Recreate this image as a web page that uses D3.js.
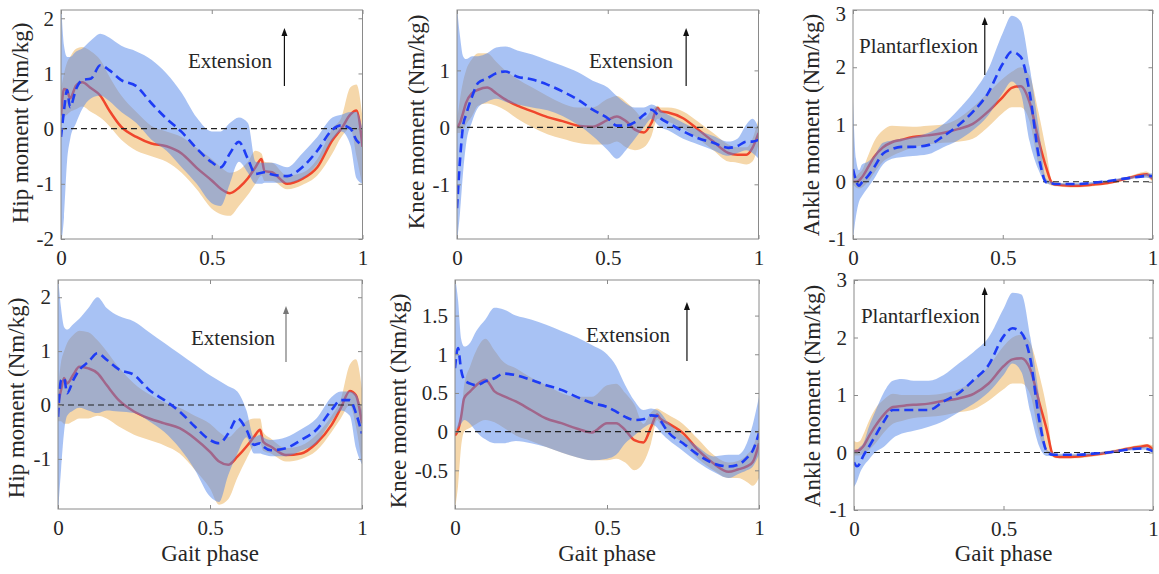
<!DOCTYPE html>
<html><head><meta charset="utf-8">
<script src="https://cdn.jsdelivr.net/npm/d3@7/dist/d3.min.js"></script>
<style>
body{margin:0;background:#fff}
svg text{font-family:"Liberation Serif","Times New Roman",serif;fill:#262626}
</style>
</head><body>
<svg id="chart" width="1159" height="574"></svg>
<script>
// ---------- DATA (gait phase grid shared by all panels) ----------
const phase = [0, 0.01, 0.02, 0.03, 0.05, 0.07, 0.1, 0.13, 0.16, 0.2, 0.25, 0.3, 0.35, 0.4, 0.45, 0.5, 0.53, 0.56, 0.59, 0.62, 0.645, 0.665, 0.675, 0.7, 0.75, 0.8, 0.85, 0.9, 0.93, 0.96, 0.98, 1];

// Panel 1: hip (top row)
const hip1RedMean  = [0.24, 0.72, 0.70, 0.55, 0.78, 0.84, 0.73, 0.60, 0.33, 0.03, -0.15, -0.27, -0.32, -0.45, -0.71, -0.94, -1.09, -1.17, -1.07, -0.90, -0.70, -0.55, -0.77, -0.79, -1.00, -0.91, -0.70, -0.21, 0.00, 0.26, 0.33, -0.33];
const hip1RedLo    = [0.0, 0.2, 0.25, 0.3, 0.35, 0.4, 0.3, 0.2, 0.05, -0.2, -0.4, -0.5, -0.6, -0.8, -1.1, -1.45, -1.55, -1.58, -1.4, -1.2, -1.0, -0.85, -0.95, -0.95, -1.1, -1.02, -0.85, -0.45, -0.15, 0.0, -0.5, -1.05];
const hip1RedHi    = [0.7, 1.0, 1.2, 1.3, 1.45, 1.48, 1.4, 1.25, 0.95, 0.6, 0.3, 0.05, -0.05, -0.15, -0.35, -0.55, -0.7, -0.8, -0.75, -0.6, -0.4, -0.45, -0.6, -0.62, -0.85, -0.8, -0.55, 0.0, 0.2, 0.75, 0.8, 0.2];
const hip1BlueMean = [-0.15, 0.33, 0.70, 0.39, 0.72, 0.88, 0.91, 1.15, 1.06, 0.88, 0.77, 0.46, 0.18, -0.06, -0.36, -0.61, -0.70, -0.45, -0.24, -0.55, -0.82, -0.80, -0.79, -0.83, -0.86, -0.70, -0.40, -0.02, 0.06, 0.00, -0.21, -0.30];
const hip1BlueLo   = [-2.1, -1.6, -0.6, -0.2, 0.1, 0.35, 0.55, 0.6, 0.5, 0.3, 0.1, -0.2, -0.4, -0.7, -1.0, -1.35, -1.4, -1.0, -0.6, -0.8, -1.0, -1.0, -0.98, -0.98, -0.98, -0.9, -0.65, -0.2, -0.05, -0.3, -0.9, -1.0];
const hip1BlueHi   = [2.3, 1.5, 1.3, 1.3, 1.4, 1.45, 1.6, 1.72, 1.65, 1.5, 1.4, 1.25, 1.0, 0.65, 0.2, -0.05, -0.05, 0.1, 0.2, 0.1, -0.6, -0.62, -0.62, -0.62, -0.7, -0.45, -0.15, 0.2, 0.25, 0.3, 0.3, 0.0];

// Panel 2: knee (top row)
const knee1RedMean  = [0.0, 0.08, 0.25, 0.43, 0.60, 0.66, 0.70, 0.60, 0.49, 0.38, 0.28, 0.18, 0.11, 0.03, 0.01, 0.13, 0.19, 0.11, -0.04, -0.09, 0.08, 0.34, 0.28, 0.26, 0.16, -0.04, -0.25, -0.45, -0.48, -0.48, -0.36, -0.10];
const knee1RedLo    = [-0.1, -0.1, -0.05, 0.05, 0.2, 0.38, 0.42, 0.38, 0.3, 0.15, 0.0, -0.12, -0.2, -0.27, -0.3, -0.3, -0.25, -0.35, -0.4, -0.35, -0.15, 0.15, 0.15, 0.1, -0.02, -0.2, -0.4, -0.6, -0.62, -0.65, -0.6, -0.3];
const knee1RedHi    = [0.1, 0.5, 0.8, 1.0, 1.2, 1.3, 1.3, 1.15, 1.0, 0.85, 0.7, 0.55, 0.42, 0.35, 0.35, 0.5, 0.55, 0.45, 0.3, 0.15, 0.3, 0.38, 0.35, 0.35, 0.28, 0.1, -0.1, -0.3, -0.35, -0.35, -0.2, 0.15];
const knee1BlueMean = [-1.42, -0.57, 0.02, 0.22, 0.54, 0.78, 0.86, 0.95, 0.98, 0.89, 0.84, 0.75, 0.63, 0.49, 0.31, 0.16, 0.03, 0.03, 0.09, 0.22, 0.31, 0.22, 0.16, 0.08, -0.07, -0.19, -0.27, -0.36, -0.33, -0.25, -0.25, -0.22];
const knee1BlueLo   = [-2.0, -1.5, -0.8, -0.3, 0.1, 0.35, 0.45, 0.5, 0.45, 0.4, 0.35, 0.3, 0.2, 0.05, -0.15, -0.4, -0.55, -0.4, -0.2, 0.0, 0.15, 0.05, 0.0, -0.05, -0.2, -0.3, -0.4, -0.5, -0.45, -0.4, -0.45, -0.55];
const knee1BlueHi   = [2.1, 1.6, 1.25, 1.2, 1.25, 1.25, 1.3, 1.4, 1.42, 1.35, 1.28, 1.18, 1.08, 0.97, 0.82, 0.7, 0.55, 0.42, 0.35, 0.35, 0.4, 0.35, 0.3, 0.22, 0.08, -0.05, -0.15, -0.25, -0.2, 0.05, 0.15, 0.0];

// Panel 3: ankle (top row)
const ankle1RedMean  = [0.0, 0.0, 0.02, 0.08, 0.25, 0.43, 0.60, 0.69, 0.73, 0.78, 0.81, 0.85, 0.92, 1.01, 1.22, 1.48, 1.64, 1.67, 1.38, 0.72, 0.25, -0.03, -0.05, -0.06, -0.07, -0.05, -0.02, 0.04, 0.08, 0.12, 0.13, 0.05];
const ankle1RedLo    = [-0.05, -0.1, -0.12, -0.1, 0.0, 0.15, 0.35, 0.45, 0.52, 0.6, 0.65, 0.68, 0.7, 0.75, 0.95, 1.2, 1.3, 1.3, 1.05, 0.3, 0.0, -0.07, -0.08, -0.09, -0.1, -0.08, -0.05, 0.01, 0.05, 0.08, 0.08, 0.0];
const ankle1RedHi    = [0.1, 0.1, 0.15, 0.2, 0.45, 0.7, 0.9, 0.98, 0.97, 0.96, 0.98, 1.0, 1.1, 1.3, 1.55, 1.8, 1.92, 2.0, 1.85, 1.2, 0.55, 0.02, 0.0, -0.03, -0.04, -0.02, 0.01, 0.07, 0.11, 0.16, 0.18, 0.1];
const ankle1BlueMean = [0.22, 0.02, -0.07, -0.01, 0.10, 0.25, 0.49, 0.57, 0.61, 0.61, 0.64, 0.79, 0.98, 1.22, 1.54, 2.06, 2.27, 2.18, 1.55, 0.45, -0.01, -0.03, -0.04, -0.04, -0.04, -0.02, 0.01, 0.05, 0.07, 0.09, 0.10, 0.10];
const ankle1BlueLo   = [-1.0, -0.6, -0.35, -0.25, -0.1, 0.05, 0.3, 0.4, 0.43, 0.45, 0.48, 0.6, 0.72, 0.9, 1.15, 1.55, 1.75, 1.55, 0.7, 0.2, -0.03, -0.05, -0.05, -0.06, -0.06, -0.04, -0.01, 0.03, 0.05, 0.07, 0.07, 0.05];
const ankle1BlueHi   = [1.4, 0.4, 0.2, 0.3, 0.35, 0.45, 0.68, 0.72, 0.75, 0.78, 0.85, 1.0, 1.25, 1.55, 1.95, 2.6, 2.9, 2.8, 2.0, 0.95, 0.05, 0.0, -0.02, -0.02, -0.02, 0.0, 0.03, 0.07, 0.09, 0.12, 0.14, 0.15];

// Panel 4: hip (bottom row)
const hip2RedMean  = [0.0, 0.28, 0.50, 0.40, 0.56, 0.71, 0.68, 0.59, 0.37, 0.09, -0.12, -0.25, -0.34, -0.43, -0.62, -0.87, -1.05, -1.11, -0.96, -0.77, -0.59, -0.46, -0.68, -0.77, -0.93, -0.90, -0.71, -0.37, -0.06, 0.26, 0.18, -0.34];
const hip2RedLo    = [-0.3, -0.3, -0.35, -0.35, -0.3, -0.25, -0.25, -0.2, -0.25, -0.4, -0.55, -0.65, -0.75, -0.9, -1.2, -1.55, -1.85, -1.75, -1.35, -1.0, -0.75, -0.7, -0.85, -0.9, -1.05, -1.0, -0.85, -0.5, -0.25, 0.0, -0.4, -1.1];
const hip2RedHi    = [0.3, 0.8, 1.0, 1.15, 1.3, 1.38, 1.35, 1.2, 1.0, 0.7, 0.4, 0.2, 0.05, -0.05, -0.2, -0.35, -0.5, -0.6, -0.45, -0.3, -0.25, -0.25, -0.5, -0.62, -0.8, -0.75, -0.55, -0.2, 0.1, 0.75, 0.85, 0.3];
const hip2BlueMean = [-0.22, 0.46, 0.50, 0.22, 0.46, 0.65, 0.80, 0.96, 0.84, 0.66, 0.56, 0.28, 0.09, -0.12, -0.40, -0.65, -0.71, -0.53, -0.25, -0.46, -0.74, -0.71, -0.77, -0.84, -0.80, -0.65, -0.46, -0.09, 0.09, 0.09, -0.15, -0.53];
const hip2BlueLo   = [-2.0, -1.2, -0.5, -0.2, -0.1, -0.05, -0.1, -0.15, -0.1, -0.12, -0.15, -0.3, -0.5, -0.8, -1.2, -1.7, -1.8, -1.3, -0.9, -0.6, -0.9, -0.9, -0.92, -0.95, -0.95, -0.85, -0.7, -0.3, -0.1, -0.2, -0.8, -1.1];
const hip2BlueHi   = [2.4, 1.8, 1.45, 1.4, 1.5, 1.6, 1.8, 2.0, 1.8, 1.65, 1.55, 1.35, 1.15, 0.95, 0.75, 0.55, 0.45, 0.35, 0.25, -0.1, -0.6, -0.55, -0.6, -0.65, -0.6, -0.45, -0.25, 0.15, 0.25, 0.25, 0.2, -0.1];

// Panel 5: knee (bottom row)
const knee2RedMean  = [-0.05, 0.02, 0.19, 0.43, 0.52, 0.60, 0.67, 0.52, 0.46, 0.39, 0.28, 0.17, 0.11, 0.04, -0.01, 0.11, 0.11, 0.02, -0.11, -0.14, 0.06, 0.22, 0.17, 0.11, -0.02, -0.24, -0.41, -0.52, -0.49, -0.45, -0.39, -0.15];
const knee2RedLo    = [-1.0, -0.7, -0.2, 0.0, 0.05, 0.1, 0.15, 0.12, 0.05, -0.05, -0.12, -0.2, -0.27, -0.33, -0.37, -0.37, -0.35, -0.4, -0.5, -0.4, -0.15, 0.15, 0.1, 0.0, -0.15, -0.35, -0.5, -0.6, -0.6, -0.65, -0.7, -0.6];
const knee2RedHi    = [0.0, 0.1, 0.2, 0.6, 0.85, 1.05, 1.2, 1.05, 0.9, 0.82, 0.7, 0.6, 0.5, 0.45, 0.45, 0.6, 0.62, 0.5, 0.35, 0.1, 0.25, 0.3, 0.28, 0.22, 0.1, -0.1, -0.3, -0.4, -0.38, -0.3, -0.2, 0.05];
const knee2BlueMean = [0.82, 1.08, 0.80, 0.67, 0.62, 0.60, 0.65, 0.69, 0.75, 0.73, 0.67, 0.60, 0.54, 0.45, 0.37, 0.32, 0.26, 0.19, 0.15, 0.16, 0.21, 0.20, 0.15, 0.00, -0.15, -0.30, -0.41, -0.45, -0.43, -0.34, -0.24, -0.02];
const knee2BlueLo   = [0.0, 0.05, 0.1, 0.15, 0.1, 0.0, -0.1, -0.15, -0.15, -0.12, -0.15, -0.2, -0.27, -0.33, -0.37, -0.35, -0.3, -0.15, -0.05, 0.05, 0.1, 0.05, 0.0, -0.1, -0.25, -0.4, -0.52, -0.6, -0.55, -0.5, -0.45, -0.3];
const knee2BlueHi   = [2.0, 1.7, 1.2, 1.1, 1.15, 1.3, 1.45, 1.6, 1.58, 1.5, 1.45, 1.38, 1.3, 1.22, 1.12, 1.0, 0.85, 0.6, 0.4, 0.28, 0.3, 0.28, 0.25, 0.12, -0.05, -0.2, -0.32, -0.3, -0.3, -0.15, 0.1, 0.45];

// Panel 6: ankle (bottom row)
const ankle2RedMean  = [0.02, 0.03, 0.05, 0.10, 0.28, 0.45, 0.66, 0.79, 0.81, 0.83, 0.85, 0.90, 0.94, 1.02, 1.20, 1.50, 1.62, 1.64, 1.44, 0.86, 0.39, -0.04, -0.07, -0.08, -0.07, -0.04, 0.00, 0.05, 0.08, 0.10, 0.12, 0.05];
const ankle2RedLo    = [-0.05, -0.05, -0.05, -0.02, 0.05, 0.15, 0.35, 0.5, 0.55, 0.6, 0.62, 0.65, 0.7, 0.75, 0.9, 1.1, 1.2, 1.2, 1.0, 0.3, 0.0, -0.08, -0.1, -0.1, -0.1, -0.07, -0.03, 0.02, 0.05, 0.07, 0.08, 0.0];
const ankle2RedHi    = [0.2, 0.18, 0.2, 0.3, 0.55, 0.75, 0.92, 1.02, 1.0, 1.0, 1.0, 1.03, 1.1, 1.25, 1.5, 1.85, 2.0, 2.05, 1.9, 1.35, 0.75, 0.02, -0.02, -0.04, -0.04, -0.01, 0.03, 0.08, 0.11, 0.14, 0.15, 0.12];
const ankle2BlueMean = [-0.17, -0.24, -0.19, -0.07, 0.10, 0.28, 0.54, 0.74, 0.74, 0.74, 0.74, 0.89, 1.03, 1.26, 1.52, 2.02, 2.16, 2.08, 1.62, 0.55, 0.02, -0.04, -0.04, -0.04, -0.04, -0.02, 0.00, 0.04, 0.06, 0.07, 0.06, 0.02];
const ankle2BlueLo   = [-0.6, -0.5, -0.35, -0.25, -0.12, 0.0, 0.1, 0.25, 0.33, 0.38, 0.45, 0.55, 0.7, 0.85, 1.05, 1.35, 1.55, 1.4, 0.7, 0.1, -0.06, -0.06, -0.06, -0.06, -0.06, -0.04, -0.01, 0.02, 0.04, 0.05, 0.05, 0.0];
const ankle2BlueHi   = [0.05, 0.05, 0.1, 0.15, 0.45, 0.7, 1.05, 1.25, 1.28, 1.25, 1.25, 1.35, 1.55, 1.75, 2.0, 2.5, 2.78, 2.75, 2.0, 0.95, 0.05, 0.0, -0.02, -0.02, -0.02, 0.0, 0.02, 0.06, 0.08, 0.1, 0.09, 0.05];

// Tick labels
const xTicks = [0, 0.5, 1];
const hip1Ticks = [-2, -1, 0, 1, 2];
const knee1Ticks = [-1, 0, 1];
const ankleTicks = [-1, 0, 1, 2, 3];
const hip2Ticks = [-1, 0, 1, 2];
const knee2Ticks = [-0.5, 0, 0.5, 1, 1.5];

const yLabels = ["Hip moment (Nm/kg)", "Knee moment (Nm/kg)", "Ankle moment (Nm/kg)"];
const notes = ["Extension", "Extension", "Plantarflexion"];

// ---------- PANEL SPECS ----------
const panels = [
  {red:[hip1RedMean,hip1RedLo,hip1RedHi], blue:[hip1BlueMean,hip1BlueLo,hip1BlueHi], ticks:hip1Ticks, yDom:[-2,2.15], label:yLabels[0], note:notes[0],
   box:[61,362.5,10,239], lab:[28,123], notePos:{tx:0.421,ty:1.10,ax:0.741,a0:0.773,a1:1.824}, gait:false, arrowColor:"#111"},
  {red:[knee1RedMean,knee1RedLo,knee1RedHi], blue:[knee1BlueMean,knee1BlueLo,knee1BlueHi], ticks:knee1Ticks, yDom:[-1.96,2.06], label:yLabels[1], note:notes[1],
   box:[457,758.5,10,239], lab:[423.5,122], notePos:{tx:0.438,ty:1.04,ax:0.76,a0:0.726,a1:1.744}, gait:false, arrowColor:"#111"},
  {red:[ankle1RedMean,ankle1RedLo,ankle1RedHi], blue:[ankle1BlueMean,ankle1BlueLo,ankle1BlueHi], ticks:ankleTicks, yDom:[-1,3], label:yLabels[2], note:notes[2],
   box:[853,1152.5,10,239], lab:[818.5,125], notePos:{tx:0.02,ty:2.249,ax:0.44,a0:1.865,a1:2.878}, gait:false, arrowColor:"#111"},
  {red:[hip2RedMean,hip2RedLo,hip2RedHi], blue:[hip2BlueMean,hip2BlueLo,hip2BlueHi], ticks:hip2Ticks, yDom:[-1.93,2.32], label:yLabels[0], note:notes[0],
   box:[58,362,280,509], lab:[23.5,398], notePos:{tx:0.4375,ty:1.114,ax:0.75,a0:0.798,a1:1.838}, gait:true, arrowColor:"#777"},
  {red:[knee2RedMean,knee2RedLo,knee2RedHi], blue:[knee2BlueMean,knee2BlueLo,knee2BlueHi], ticks:knee2Ticks, yDom:[-1.0,1.96], label:yLabels[1], note:notes[1],
   box:[455,759,280,509], lab:[406,401], notePos:{tx:0.431,ty:1.159,ax:0.763,a0:0.913,a1:1.676}, gait:true, arrowColor:"#111"},
  {red:[ankle2RedMean,ankle2RedLo,ankle2RedHi], blue:[ankle2BlueMean,ankle2BlueLo,ankle2BlueHi], ticks:ankleTicks, yDom:[-1,3], label:yLabels[2], note:notes[2],
   box:[854,1153,280,510], lab:[820,396], notePos:{tx:0.023,ty:2.252,ax:0.437,a0:1.852,a1:2.878}, gait:true, arrowColor:"#111"}
];

const COL = {orange:"#f5d7aa", blue:"#5286ea", blueAlpha:0.5, red:"#f0462c", dash:"#1e3cf5", frame:"#8a8a8a", text:"#262626"};
const TICK_FS = 21, LABEL_FS = 23, NOTE_FS = 21;

const svg = d3.select("#chart");
const defs = svg.append("defs");

panels.forEach((P, i) => {
  const [x0, x1, y0, y1] = P.box;
  const x = d3.scaleLinear().domain([0, 1]).range([x0, x1]);
  const y = d3.scaleLinear().domain(P.yDom).range([y1, y0]);
  const g = svg.append("g");

  defs.append("clipPath").attr("id", "clip" + i)
    .append("rect").attr("x", x0).attr("y", y0).attr("width", x1 - x0).attr("height", y1 - y0);
  const plot = g.append("g").attr("clip-path", `url(#clip${i})`);

  const idx = d3.range(phase.length);
  const area = (lo, hi) => d3.area().curve(d3.curveMonotoneX)
      .x(k => x(phase[k])).y0(k => y(lo[k])).y1(k => y(hi[k]))(idx);
  const line = (m) => d3.line().curve(d3.curveMonotoneX)
      .x(k => x(phase[k])).y(k => y(m[k]))(idx);

  // orange band, red line, then translucent blue band, zero line, blue dashed
  plot.append("path").attr("d", area(P.red[1], P.red[2])).attr("fill", COL.orange);
  plot.append("path").attr("d", line(P.red[0])).attr("fill", "none")
      .attr("stroke", COL.red).attr("stroke-width", 2.5).attr("stroke-linejoin", "round");
  plot.append("path").attr("d", area(P.blue[1], P.blue[2])).attr("fill", COL.blue).attr("fill-opacity", COL.blueAlpha);
  plot.append("line").attr("x1", x(0)).attr("x2", x(1)).attr("y1", y(0)).attr("y2", y(0))
      .attr("stroke", "#222").attr("stroke-width", 1.2).attr("stroke-dasharray", "6,4");
  plot.append("path").attr("d", line(P.blue[0])).attr("fill", "none")
      .attr("stroke", COL.dash).attr("stroke-width", 2.6).attr("stroke-dasharray", "9,5");

  // frame
  g.append("rect").attr("x", x0).attr("y", y0).attr("width", x1 - x0).attr("height", y1 - y0)
    .attr("fill", "none").attr("stroke", COL.frame).attr("stroke-width", 1);

  const styleAxis = sel => {
    sel.attr("font-family", null).attr("font-size", null).attr("color", COL.frame);
    sel.select(".domain").remove();
    sel.selectAll("text").attr("font-size", TICK_FS).style("fill", COL.text);
  };
  const fmt = d => String(d);

  const left = g.append("g").attr("transform", `translate(${x0},0)`)
    .call(d3.axisLeft(y).tickValues(P.ticks).tickFormat(fmt).tickSizeInner(-4).tickSizeOuter(0).tickPadding(7))
    .call(styleAxis);
  // keep a tick label that sits at the very top edge of the page fully inside it
  left.selectAll(".tick").filter(d => y(d) < 14).select("text").attr("dy", "0.5em");

  g.append("g").attr("transform", `translate(${x1},0)`)
    .call(d3.axisRight(y).tickValues(P.ticks).tickFormat("").tickSizeInner(-4).tickSizeOuter(0))
    .call(styleAxis);
  g.append("g").attr("transform", `translate(0,${y1})`)
    .call(d3.axisBottom(x).tickValues(xTicks).tickFormat(fmt).tickSizeInner(-4).tickSizeOuter(0).tickPadding(11))
    .call(styleAxis);
  g.append("g").attr("transform", `translate(0,${y0})`)
    .call(d3.axisTop(x).tickValues(xTicks).tickFormat("").tickSizeInner(-4).tickSizeOuter(0))
    .call(styleAxis);

  // y label
  g.append("text").attr("transform", `translate(${P.lab[0]},${P.lab[1]}) rotate(-90)`)
    .attr("text-anchor", "middle").attr("font-size", LABEL_FS).text(P.label);

  // x label
  if (P.gait) {
    g.append("text").attr("x", (x0 + x1) / 2).attr("y", 561)
      .attr("text-anchor", "middle").attr("font-size", LABEL_FS).text("Gait phase");
  }

  // annotation
  const N = P.notePos;
  g.append("text").attr("x", x(N.tx)).attr("y", y(N.ty)).attr("font-size", NOTE_FS).text(P.note);
  const ax = x(N.ax), ayb = y(N.a0), ayt = y(N.a1);
  g.append("line").attr("x1", ax).attr("x2", ax).attr("y1", ayb).attr("y2", ayt + 6)
    .attr("stroke", P.arrowColor).attr("stroke-width", 1.2);
  g.append("path").attr("d", `M${ax},${ayt} L${ax - 3},${ayt + 8} L${ax + 3},${ayt + 8} Z`).attr("fill", P.arrowColor);
});
</script>
</body></html>
